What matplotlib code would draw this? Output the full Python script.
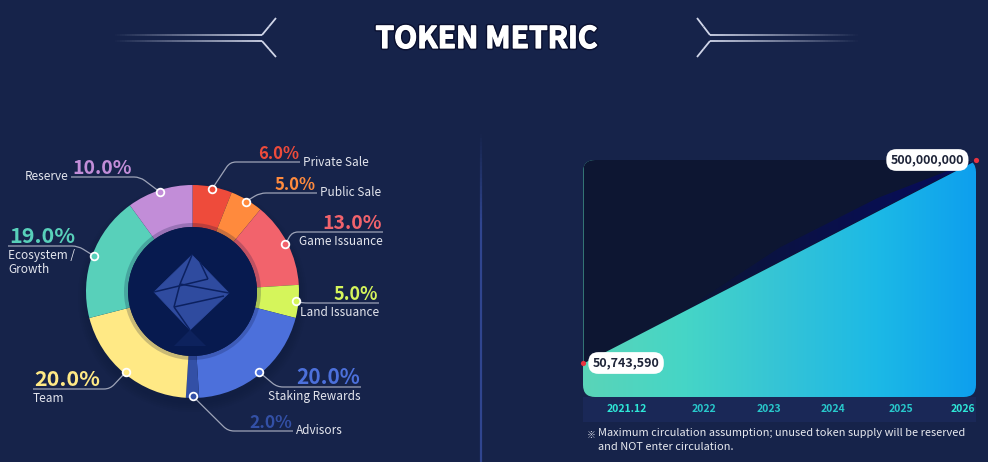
# Token metric infographic: allocation donut + circulation area chart
import matplotlib
matplotlib.use("Agg")
import matplotlib.pyplot as plt
import matplotlib.patches as mpatches
import matplotlib.patheffects as pe
from matplotlib.path import Path
from matplotlib.collections import LineCollection
from matplotlib.colors import LinearSegmentedColormap
import numpy as np

W, H = 988, 462
BG = "#16234a"
plt.rcParams["font.family"] = ["Noto Sans CJK KR", "DejaVu Sans"]

# ---- allocation data ----
categories = ["Private Sale", "Public Sale", "Game Issuance", "Land Issuance",
              "Staking Rewards", "Advisors", "Team", "Ecosystem /\nGrowth", "Reserve"]
shares = [6.0, 5.0, 13.0, 5.0, 20.0, 2.0, 20.0, 19.0, 10.0]
slice_colors = ["#EE4B3B", "#FF8A3D", "#F2636C", "#D5F55B", "#4C70DB",
                "#3350A6", "#FFE985", "#58D0BA", "#C28DD8"]

# ---- circulation data ----
circ_x = [0.0, 1.0]
circ_supply = [50743590, 500000000]
circ_labels = ["50,743,590", "500,000,000"]
band_x = [0.25, 0.5, 0.75, 1.0]
band_low = [163000000, 275400000, 387700000, 500000000]
band_high = [163000000, 306000000, 416000000, 500000000]
year_labels = ["2021.12", "2022", "2023", "2024", "2025", "2026"]
year_pos = [0.112, 0.308, 0.473, 0.636, 0.809, 0.967]

footnote = ("Maximum circulation assumption; unused token supply will be reserved\n"
            "and NOT enter circulation.")

# label layout in image pixels: elbow x, elbow y, line end x, name placement, pct size
label_layout = [
    (230, 162, 300, "after", 12),
    (260, 193, 317, "after", 12),
    (292, 232, 383, "below", 14),
    (302, 303, 379, "below", 13),
    (277, 387, 361, "below", 15),
    (228, 431, 293, "after", 12.5),
    (110, 389, 33, "below", 15.5),
    (78, 246, 8, "below", 15.5),
    (140, 177, 71, "before", 14),
]


def Y(y):
    return H - y


def leader(ax, p0, p1, p2, r=6):
    p0, p1, p2 = map(np.asarray, (p0, p1, p2))
    v1 = (p0 - p1) / (np.linalg.norm(p0 - p1) + 1e-9)
    v2 = (p2 - p1) / (np.linalg.norm(p2 - p1) + 1e-9)
    a = p1 + v1 * min(r, np.linalg.norm(p0 - p1) / 2)
    b = p1 + v2 * r
    path = Path([p0, a, p1, b, p2],
                [Path.MOVETO, Path.LINETO, Path.CURVE3, Path.CURVE3, Path.LINETO])
    ax.add_patch(mpatches.PathPatch(path, fc="none", ec="#9ea4b8", lw=0.9, zorder=4))


def fade_line(ax, p_from, p_to, a0, a1, n=60, lw=1.3):
    xs = np.linspace(p_from[0], p_to[0], n + 1)
    ys = np.linspace(p_from[1], p_to[1], n + 1)
    segs = [[(xs[i], ys[i]), (xs[i + 1], ys[i + 1])] for i in range(n)]
    cols = [(0.86, 0.88, 0.95, a) for a in np.linspace(a0, a1, n)]
    ax.add_collection(LineCollection(segs, colors=cols, linewidths=lw, capstyle="butt"))


fig = plt.figure(figsize=(W / 100, H / 100), dpi=100, facecolor=BG)
ax = fig.add_axes([0, 0, 1, 1])
ax.set_facecolor(BG)

# ---- donut ----
cx, cy, R, r_in = 192.5, Y(291.5), 106.5, 64.5
for k in range(5):
    ax.add_patch(mpatches.Circle((cx, cy - 6), R + k * 2, fc="#0a1232",
                                 alpha=0.05, lw=0, zorder=1))
wedges, _ = ax.pie(shares, colors=slice_colors, startangle=90, counterclock=False,
                   radius=R, center=(cx, cy),
                   wedgeprops=dict(width=R - r_in, linewidth=0, zorder=2))
ax.add_patch(mpatches.Circle((cx, cy), r_in + 4, fc="#0a1440", alpha=0.22, lw=0, zorder=3))
ax.add_patch(mpatches.Circle((cx, cy), r_in, fc="#071a4f", lw=0, zorder=3))

# gem icon
T, Rt, B, L = (192, Y(255)), (229, Y(293)), (190, Y(330)), (154, Y(292))
ax.add_patch(mpatches.Polygon([(190, Y(330)), (174, Y(346)), (206, Y(346))],
                              fc="#132a6c", alpha=0.5, lw=0, zorder=3))
ax.add_patch(mpatches.Polygon([T, Rt, B, L], fc="#2f4b9f", ec="#2f4b9f", lw=0.5, zorder=3))
gem_edges = [[T, (180, Y(284))], [(180, Y(284)), (174, Y(307))], [(174, Y(307)), B],
             [L, (208, Y(279))], [(180, Y(284)), Rt], [(174, Y(307)), (224, Y(296))],
             [(208, Y(279)), (200, Y(262))]]
ax.add_collection(LineCollection(gem_edges, colors="#0c2160", linewidths=1.1, zorder=3))

for w, name, share, col, lay in zip(wedges, categories, shares, slice_colors, label_layout):
    ex, ey, endx, mode, psize = lay
    mid = np.deg2rad((w.theta1 + w.theta2) / 2)
    dx, dy = cx + 0.98 * R * np.cos(mid), cy + 0.98 * R * np.sin(mid)
    leader(ax, (dx, dy), (ex, Y(ey)), (endx, Y(ey)))
    ax.plot(dx, dy, "o", ms=5.5, mfc=col, mec="white", mew=1.3, zorder=6)
    pct = f"{share:.1f}%"
    right = endx > ex
    if right:
        ax.text(endx - 1, Y(ey - 3), pct, ha="right", va="baseline", fontsize=psize,
                fontweight="bold", color=col, zorder=5)
        if mode == "after":
            ax.text(endx + 3, Y(ey), name, ha="left", va="center", fontsize=8.5,
                    color="#e4e6ee", zorder=5)
        else:
            ax.text(endx, Y(ey + 3), name, ha="right", va="top", fontsize=8.5,
                    color="#e4e6ee", zorder=5)
    else:
        ax.text(endx + 1, Y(ey - 3), pct, ha="left", va="baseline", fontsize=psize,
                fontweight="bold", color=col, zorder=5)
        if mode == "before":
            ax.text(endx - 3, Y(ey), name, ha="right", va="center", fontsize=8.5,
                    color="#e4e6ee", zorder=5)
        else:
            ax.text(endx, Y(ey + 3), name, ha="left", va="top", fontsize=8.5,
                    color="#e4e6ee", zorder=5, linespacing=1.1)

# ---- title and decorations ----
ax.text(486.5, Y(39), "TOKEN METRIC", ha="center", va="center", fontsize=21.5,
        fontweight="heavy", color="white",
        path_effects=[pe.withStroke(linewidth=3, foreground="#0a1030"),
                      pe.withStroke(linewidth=0.9, foreground="white")])
fade_line(ax, (112, Y(35)), (262, Y(35)), 0.0, 0.95)
fade_line(ax, (112, Y(41)), (262, Y(41)), 0.0, 0.95)
fade_line(ax, (262, Y(35)), (276, Y(18)), 0.95, 0.95, n=2)
fade_line(ax, (262, Y(41)), (276, Y(57)), 0.95, 0.95, n=2)
fade_line(ax, (710, Y(35)), (860, Y(35)), 0.95, 0.0)
fade_line(ax, (710, Y(41)), (860, Y(41)), 0.95, 0.0)
fade_line(ax, (710, Y(35)), (697, Y(18)), 0.95, 0.95, n=2)
fade_line(ax, (710, Y(41)), (697, Y(57)), 0.95, 0.95, n=2)

# divider
segs = [[(480.5, Y(y0)), (480.5, Y(y0 + 4))] for y0 in range(130, 462, 4)]
alph = [min(1.0, max(0.0, (y0 - 130) / 90)) for y0 in range(130, 462, 4)]
ax.add_collection(LineCollection(segs, colors=[(0.19, 0.27, 0.56, a) for a in alph],
                                 linewidths=1.6))

# ---- circulation panel ----
ax.add_patch(mpatches.Rectangle((583, Y(422)), 393, 25, fc="#1a2857", lw=0, zorder=1))
panel = mpatches.FancyBboxPatch((583, Y(397)), 393, 237,
                                boxstyle="round,pad=0,rounding_size=12",
                                fc="#0d1632", lw=0, zorder=1)
ax.add_patch(panel)

ax.set_xlim(0, W)
ax.set_ylim(0, H)
ax.set_aspect("auto")
ax.axis("off")

ax.text(591, Y(435.5), "※", ha="center", va="center", fontsize=6.5, color="#d8dbe6")
ax.text(598, Y(428), footnote, ha="left", va="top", fontsize=7.9, color="#e8eaf0",
        linespacing=1.55)

ax2 = fig.add_axes([583 / W, (H - 397) / H, 393 / W, 237 / H])
ax2.patch.set_visible(False)
ymin, ymax = -24.5e6, 500e6

grad_cmap = LinearSegmentedColormap.from_list(
    "circ", ["#5ad4b8", "#46d6c6", "#35c4d6", "#1cb9e6", "#0e9fee"])
img = ax2.imshow(np.linspace(0, 1, 256)[None, :], cmap=grad_cmap, aspect="auto",
                 extent=(0, 1, ymin, ymax), origin="lower", zorder=1)
img.set_clip_path(panel)

dark = ax2.fill_between(circ_x, circ_supply, ymax, color="#0d1632", lw=0, zorder=2)
dark.set_clip_path(panel)

band_cmap = LinearSegmentedColormap.from_list(
    "band", [(0.05, 0.09, 0.20, 0.0), (0.03, 0.05, 0.36, 1.0)])
band_poly = ax2.fill_between(band_x, band_low, band_high, fc="none", lw=0, zorder=2)
band_img = ax2.imshow(np.linspace(0, 1, 256)[None, :] ** 0.4, cmap=band_cmap,
                      aspect="auto", extent=(0.25, 1, ymin, ymax), origin="lower",
                      zorder=3)
band_img.set_clip_path(band_poly.get_paths()[0], transform=ax2.transData)

ax2.scatter(circ_x, circ_supply, s=14, color="#e8333f", zorder=6, clip_on=False,
            linewidths=0)
ax2.annotate(circ_labels[0], xy=(circ_x[0], circ_supply[0]), xytext=(31, 0),
             textcoords="offset points", ha="center", va="center", fontsize=9,
             fontweight="bold", color="#1e2438", zorder=5, annotation_clip=False,
             bbox=dict(boxstyle="round,pad=0.35,rounding_size=0.8", fc="white", ec="none"))
ax2.annotate(circ_labels[1], xy=(circ_x[1], circ_supply[1]), xytext=(-35, 0),
             textcoords="offset points", ha="center", va="center", fontsize=9,
             fontweight="bold", color="#1e2438", zorder=5, annotation_clip=False,
             bbox=dict(boxstyle="round,pad=0.35,rounding_size=0.8", fc="white", ec="none"))

ax2.set_xlim(0, 1)
ax2.set_ylim(ymin, ymax)
ax2.set_frame_on(False)
ax2.set_yticks([])
ax2.set_xticks(year_pos, year_labels)
ax2.tick_params(axis="x", length=0, pad=5, labelsize=7.5)
for i, lab in enumerate(ax2.get_xticklabels()):
    lab.set_fontweight("bold")
    lab.set_color("#2ee8d8" if i in (0, len(year_labels) - 1) else "#28c9cc")

fig.savefig("out.png", dpi=100, facecolor=BG)
